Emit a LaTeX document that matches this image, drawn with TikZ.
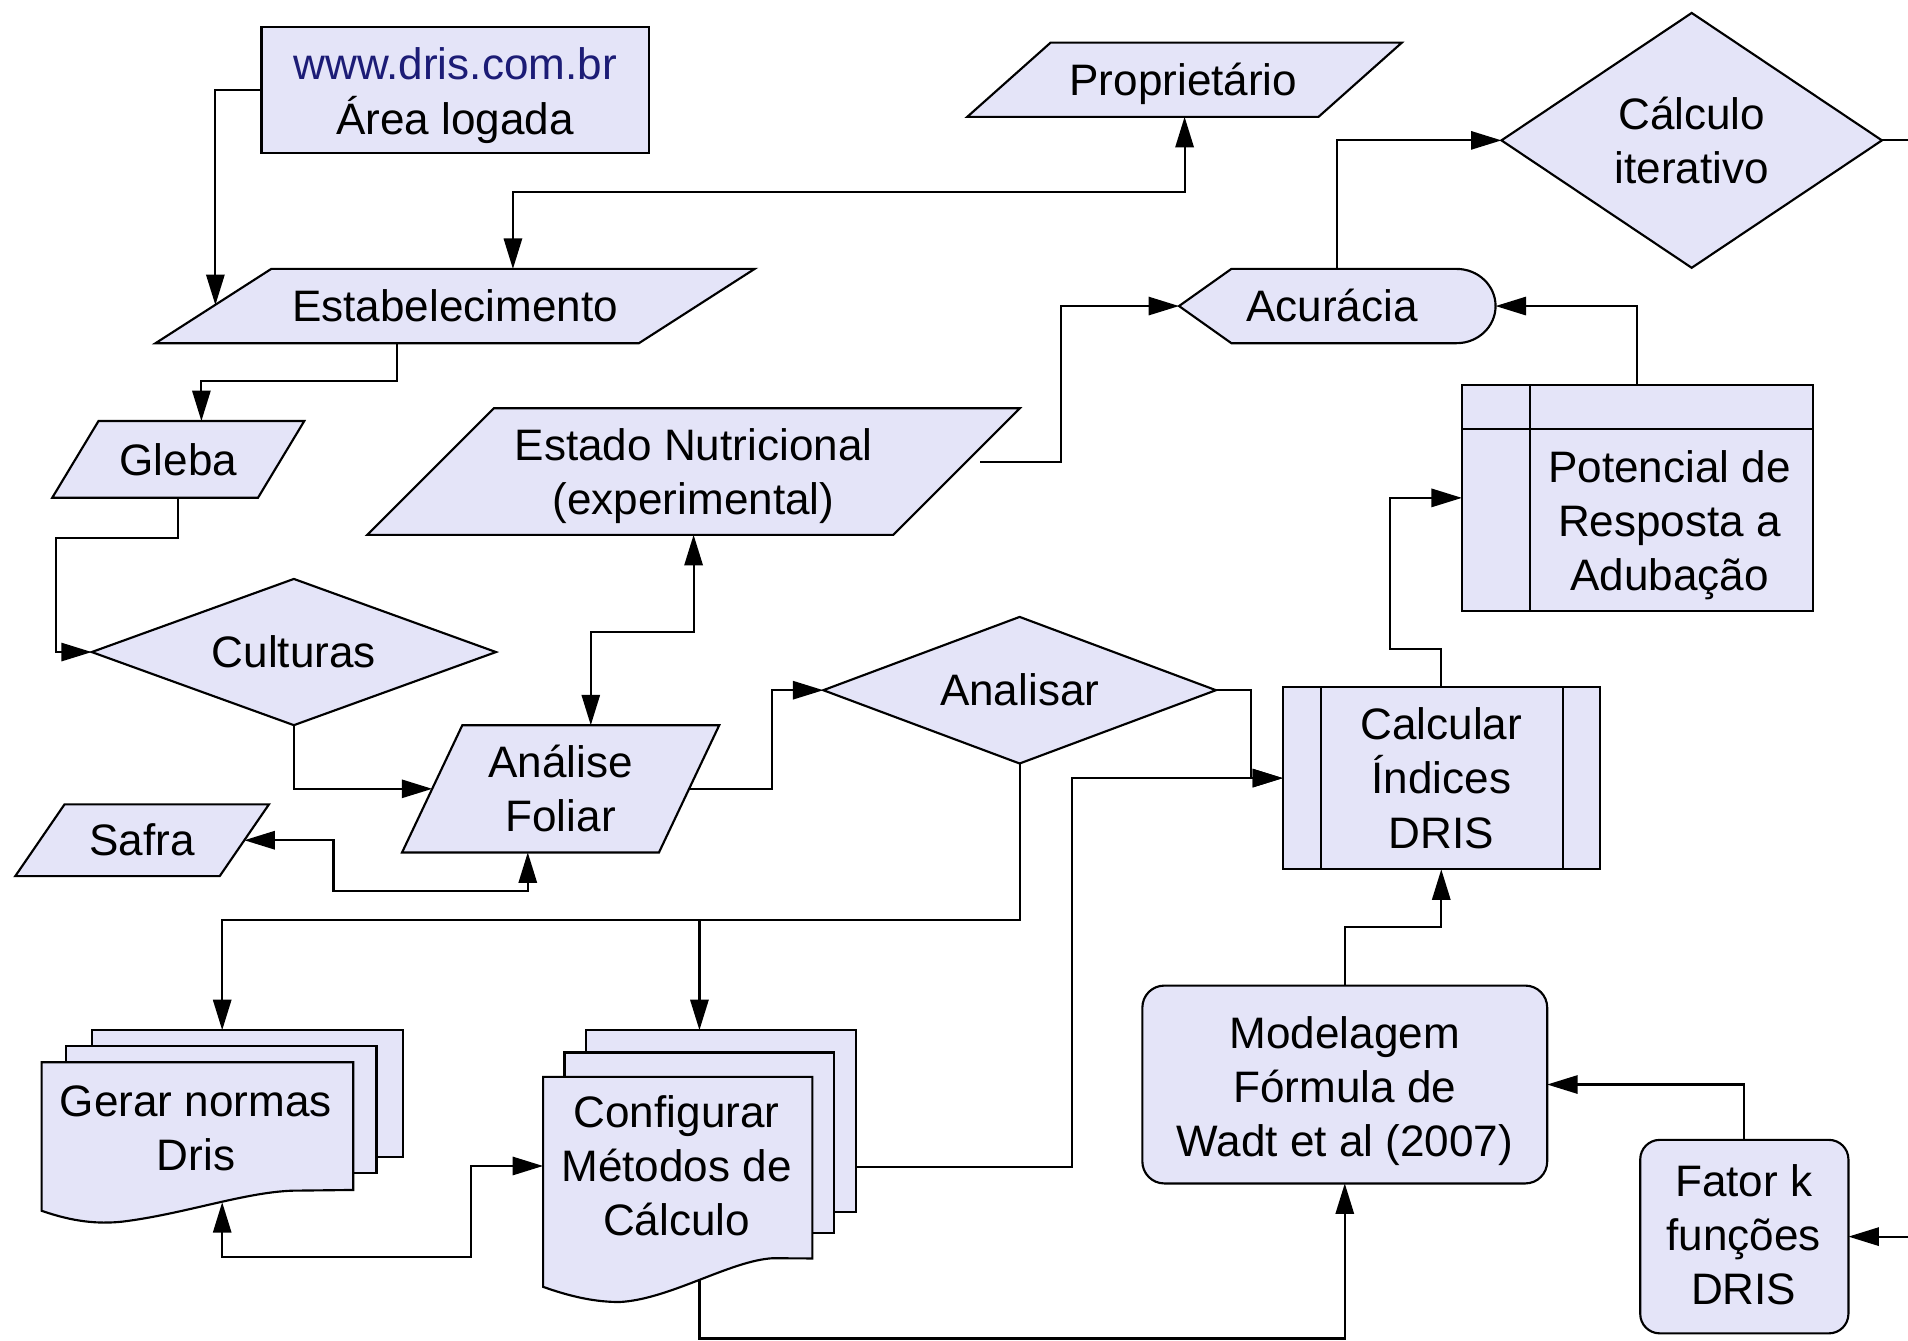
\documentclass[tikz,border=0pt]{standalone}
\usepackage{fontspec}
\setmainfont{Liberation Sans}
\usetikzlibrary{arrows.meta,calc,backgrounds}
\definecolor{boxfill}{RGB}{228,228,248}
\definecolor{urlblue}{RGB}{28,28,118}
\begin{document}
\begin{tikzpicture}[x=0.01cm,y=-0.01cm,
  every node/.style={font=\fontsize{10.3}{12.66}\selectfont, align=center, inner sep=0pt, outer sep=0pt},
  shp/.style={draw=black, fill=boxfill, line width=0.5pt},
  wire/.style={line width=0.5pt, draw=black},
  arr/.style={wire, -{Triangle[length=2.5mm,width=1.5mm]}},
  darr/.style={wire, {Triangle[length=2.5mm,width=1.5mm]}-{Triangle[length=2.5mm,width=1.5mm]}},
  wh/.style 2 args={minimum width=#1, minimum height=#2},
]
\useasboundingbox (0,0) rectangle (1568,1102);

% ---------- nodes ----------
\node[shp, wh={3.18cm}{1.04cm}] (www) at (374,74) {};
\node (www-t) at (374,78.5) {\textcolor{urlblue}{www.dris.com.br}\\Área logada};
\node[wh={3.57cm}{0.61cm}] (prop) at (973.5,65.5) {};
\node (prop-t) at (972.5,68.5) {Proprietário};
\node[wh={3.125cm}{2.093cm}] (calcit) at (1390.25,115.35) {Cálculo\\iterativo};
\node[wh={4.92cm}{0.61cm}] (est) at (374,251.5) {Estabelecimento};
\node[wh={2.60cm}{0.61cm}] (acc) at (1099,251.5) {};
\node (acc-t) at (1094.5,251) {Acurácia};
\node[wh={2.07cm}{0.63cm}] (gleba) at (146.5,377.5) {Gleba};
\node[wh={5.36cm}{1.04cm}] (estado) at (570,387.5) {};
\node (estado-t) at (570,391.5) {Estado Nutricional\\(experimental)};
\node[shp, wh={2.882cm}{1.853cm}] (pot) at (1345.6,409.15) {};
\node (pot-t) at (1372,431.8) {Potencial de\\Resposta a\\Adubação};
\node[wh={3.32cm}{1.201cm}] (cult) at (241.5,535.85) {Culturas};
\node[wh={3.225cm}{1.204cm}] (analisar) at (837.95,567.2) {Analisar};
\node[shp, wh={2.601cm}{1.499cm}] (calc) at (1184.45,639.45) {Calcular\\Índices\\DRIS};
\node[wh={2.605cm}{1.045cm}] (analise) at (460.75,648.25) {Análise\\Foliar};
\node[wh={2.084cm}{0.59cm}] (safra) at (116.8,690.5) {Safra};
\node[wh={2.968cm}{1.484cm}] (gerar) at (182.6,920.8) {};
\node (gerar-t) at (161,927) {Gerar normas\\Dris};
\node[wh={2.57cm}{2.109cm}] (cfg) at (574.8,952.05) {};
\node (cfg-t) at (556,958) {Configurar\\Métodos de\\Cálculo};
\node[shp, rounded corners=0.18cm, wh={3.325cm}{1.625cm}] (model) at (1105.15,891.25) {};
\node (model-t) at (1105.15,896.5) {Modelagem\\Fórmula de\\Wadt et al (2007)};
\node[shp, rounded corners=0.16cm, wh={1.71cm}{1.589cm}] (fator) at (1433.5,1016.25) {};
\node (fator-t) at (1433,1014.5) {Fator k\\funções\\DRIS};

% ---------- shape outlines ----------
\begin{scope}[on background layer]
  \draw[shp] ([xshift=0.685cm]prop.north west) -- (prop.north east) -- ([xshift=-0.685cm]prop.south east) -- (prop.south west) -- cycle;
  \draw[shp] ([xshift=0.95cm]est.north west) -- (est.north east) -- ([xshift=-0.95cm]est.south east) -- (est.south west) -- cycle;
  \draw[shp] ([xshift=0.38cm]gleba.north west) -- (gleba.north east) -- ([xshift=-0.38cm]gleba.south east) -- (gleba.south west) -- cycle;
  \draw[shp] ([xshift=1.04cm]estado.north west) -- (estado.north east) -- ([xshift=-1.04cm]estado.south east) -- (estado.south west) -- cycle;
  \draw[shp] ([xshift=0.495cm]analise.north west) -- (analise.north east) -- ([xshift=-0.495cm]analise.south east) -- (analise.south west) -- cycle;
  \draw[shp] ([xshift=0.405cm]safra.north west) -- (safra.north east) -- ([xshift=-0.405cm]safra.south east) -- (safra.south west) -- cycle;
  \draw[shp] (calcit.west) -- (calcit.north) -- (calcit.east) -- (calcit.south) -- cycle;
  \draw[shp] (cult.west) -- (cult.north) -- (cult.east) -- (cult.south) -- cycle;
  \draw[shp] (analisar.west) -- (analisar.north) -- (analisar.east) -- (analisar.south) -- cycle;
  \draw[shp] (acc.west) -- ([xshift=0.43cm]acc.north west) -- ([xshift=-0.32cm]acc.north east)
     arc[start angle=90, end angle=-90, x radius=0.32cm, y radius=0.305cm]
     -- ([xshift=0.43cm]acc.south west) -- cycle;
  % Gerar normas: stacked documents
  \draw[shp] (75.5,846.6) rectangle (331,951);
  \draw[shp] (54,859.3) rectangle (309.4,964.3);
  \draw[shp] (34.2,872.9) -- (290.3,872.9) -- (290.3,977.9) -- (240,978.5)
     .. controls (200,980) and (150,998) .. (100,1004)
     .. controls (80,1006) and (60,1004) .. (34.2,995) -- cycle;
  % Configurar: stacked documents
  \draw[shp] (481.5,846.6) rectangle (703.3,995.7);
  \draw[shp] (463.9,864.9) rectangle (685.2,1013.6);
  \draw[shp] (446.3,885) -- (667.6,885) -- (667.6,1034.2) -- (635,1034)
     .. controls (600,1036) and (550,1068) .. (509,1070)
     .. controls (490,1070) and (470,1066) .. (446.3,1057.5) -- cycle;
\end{scope}

% inner lines
\draw[wire] ([yshift=-0.363cm]pot.north west) -- ([yshift=-0.363cm]pot.north east);
\draw[wire] ([xshift=0.562cm]pot.north west) -- ([xshift=0.562cm]pot.south west);
\draw[wire] ([xshift=0.311cm]calc.north west) -- ([xshift=0.311cm]calc.south west);
\draw[wire] ([xshift=-0.301cm]calc.north east) -- ([xshift=-0.301cm]calc.south east);

% ---------- coordinates ----------
\coordinate (gerB) at (182.6,988);
\coordinate (cfgB) at (574.8,1052);
\coordinate (cfgL) at (446.3,958.2);
\coordinate (cfgR) at (703.3,959);
\coordinate (e1) at (177,250.7);
\coordinate (e9) at (805.4,379.4);
\coordinate (edgeA) at (1568,115.35);
\coordinate (edgeB) at (1568,1016.25);
\coordinate (b4) at (46,442);
\coordinate (j15) at ($(analisar.south)+(0,128.3)$);

% ---------- connectors ----------
\draw[arr] (www.west) -| (e1);
\draw[darr] (prop.south) -- ++(0,61.5) -| ([xshift=0.475cm]est.north);
\draw[arr] ([xshift=-0.475cm]est.south) -- ++(0,31) -| ([xshift=0.19cm]gleba.north);
\draw[arr] (gleba.south) -- (gleba.south |- b4) -- (b4) |- (cult.west);
\draw[arr] (cult.south) |- ([xshift=0.2475cm]analise.west);
\draw[arr] ([xshift=-0.2475cm]analise.east) -- ++(68,0) |- (analisar.west);
\draw[darr] ([xshift=-0.27cm]analise.south) -- ++(0,32) -- ++(-159.7,0) |- ([xshift=-0.2025cm]safra.east);
\draw[darr] (estado.south) -- ++(0,79.6) -| ([xshift=0.2475cm]analise.north);
\draw[arr] (e9) -- ++(66.6,0) |- (acc.west);
\draw[arr] (acc.north) |- (calcit.west);
\draw[arr] (pot.north) |- (acc.east);
\draw[arr] (calc.north) -- ++(0,-31) -- ++(-42.2,0) |- (pot.west);
\draw[arr] (analisar.east) -- ++(29,0) |- (calc.west);
\draw[arr] (cfgR) -- ++(177.7,0) |- (calc.west);
\draw[arr] (analisar.south) -- (j15) -| (gerar.north);
\draw[arr] (cfg.north |- j15) -- (cfg.north);
\draw[darr] (gerB) -- ++(0,45.2) -- ++(204.8,0) |- (cfgL);
\draw[arr] (cfgB) -- ++(0,48) -| (model.south);
\draw[arr] (model.north) -- ++(0,-48.1) -| (calc.south);
\draw[arr] (fator.north) |- (model.east);
\draw[arr] (edgeB) -- (fator.east);
\draw[wire] (calcit.east) -- (edgeA);
\end{tikzpicture}
\end{document}
